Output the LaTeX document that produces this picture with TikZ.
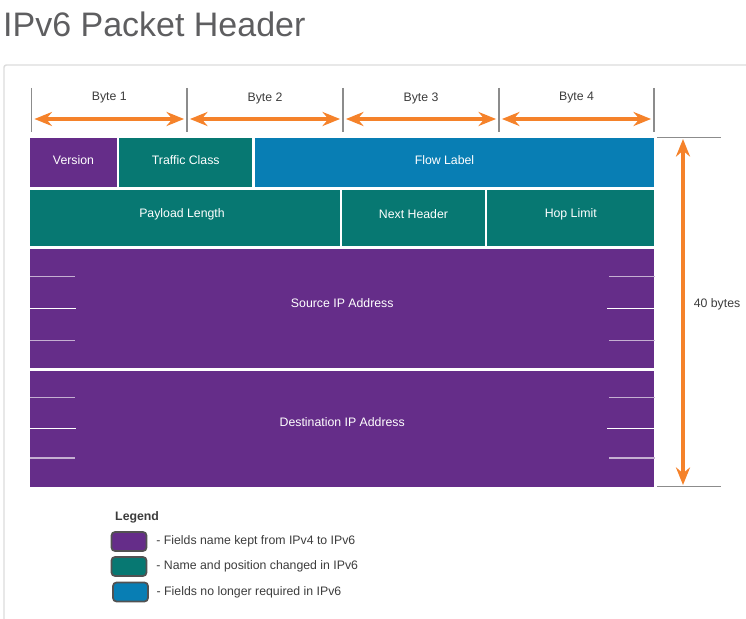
\documentclass[tikz,border=0pt]{standalone}
\usepackage{fontspec}
\setmainfont{Liberation Sans}
\usetikzlibrary{arrows.meta}
\usetikzlibrary{positioning}
\usetikzlibrary{fit}
\usetikzlibrary{calc}

\definecolor{keptpurple}{HTML}{652D89}
\definecolor{changedteal}{HTML}{077872}
\definecolor{droppedblue}{HTML}{087EB4}
\definecolor{arroworange}{HTML}{F5822A}
\definecolor{tickgray}{HTML}{8C8C8C}
\definecolor{framegray}{HTML}{DCDCDC}
\definecolor{textgray}{HTML}{3C3C3C}
\definecolor{titlegray}{HTML}{5E5E60}

\tikzset{
  field/.style={inner sep=0pt, draw=white, line width=2.3pt},
  fieldname/.style={inner sep=0pt, text=white, font=\fontsize{10.5}{12}\selectfont},
  sizearrow/.style={arroworange, line width=2.6pt,
    {Stealth[length=15pt,width=12pt,inset=5pt]}-{Stealth[length=15pt,width=12pt,inset=5pt]}},
  ruler/.style={tickgray, line width=1pt},
  slot/.style={white!62!keptpurple, line width=1pt},
  slotmid/.style={white, line width=1.3pt},
  swatch/.style={draw=black!68, line width=1.5pt, rounded corners=3pt,
    minimum width=1.05cm, minimum height=0.57cm, inner sep=0pt},
  plaintext/.style={inner sep=0pt, text=textgray, font=\fontsize{10.5}{12}\selectfont}
}

\begin{document}
\begin{tikzpicture}[x=0.03cm, y=-0.03cm]
  \useasboundingbox (0,0) rectangle (746,619);

  % title and frame
  \node[anchor=base west, inner sep=0pt, text=titlegray,
        font=\fontsize{29}{34}\selectfont] (title) at (3,37) {IPv6 Packet Header};
  \draw[framegray, line width=1.2pt, rounded corners=2pt] (4,625) -- (4,65) -- (752,65);

  % byte ruler
  \foreach \i/\x in {0/31.5, 1/187, 2/343, 3/499, 4/654}
    \draw[ruler] (\x,88) coordinate (bt\i) -- (\x,132) coordinate (bb\i);
  \foreach \i/\j in {0/1, 1/2, 2/3, 3/4}{
    \node[plaintext] (byte\j) at ($(bt\i)!0.5!(bt\j)+(0,10)$) {Byte \j};
    \draw[sizearrow, shorten <=2.5pt, shorten >=2.5pt] ($(bt\i)+(0,31)$) -- ($(bt\j)+(0,31)$);
  }

  % header fields
  \fill[black!12] (27.5,136.5) rectangle (657,489);
  \node[field, fill=keptpurple, fit={(29,137) (118,188.5)}] (version) {};
  \node[field, fill=changedteal, fit={(118,137) (253.5,188.5)}] (traffic) {};
  \node[field, fill=droppedblue, fit={(253.5,137) (655.5,188.5)}] (flow) {};
  \node[field, fill=changedteal, fit={(29,188.5) (341,247.5)}] (payload) {};
  \node[field, fill=changedteal, fit={(341,188.5) (486,247.5)}] (nexthdr) {};
  \node[field, fill=changedteal, fit={(486,188.5) (655.5,247.5)}] (hoplimit) {};
  \node[field, fill=keptpurple, fit={(29,247.5) (655.5,369.5)}] (source) {};
  \node[field, fill=keptpurple, fit={(29,369.5) (655.5,488)}] (destination) {};

  \node[fieldname] (versionname) at ([yshift=2.5pt]version.center) {Version};
  \node[fieldname] (trafficname) at ([yshift=2.5pt]traffic.center) {Traffic Class};
  \node[fieldname] (flowname) at ([xshift=-0.3cm, yshift=2.5pt]flow.center) {Flow Label};
  \node[fieldname] (payloadname) at ([xshift=-0.09cm, yshift=3pt]payload.center) {Payload Length};
  \node[fieldname] (nexthdrname) at ([yshift=3pt]nexthdr.center) {Next Header};
  \node[fieldname] (hoplimitname) at ([yshift=3pt]hoplimit.center) {Hop Limit};
  \node[fieldname] (sourcename) at ([yshift=4.5pt]source.center) {Source IP Address};
  \node[fieldname] (destinationname) at ([yshift=5.5pt]destination.center) {Destination IP Address};

  % 32 bit slots inside the addresses
  \foreach \y in {276.5, 340.5, 397.5, 458}{
    \draw[slot] (30,\y) -- (75,\y);
    \draw[slot] (609,\y) -- (654.5,\y);
  }
  \foreach \y in {308.5, 428.5}{
    \draw[slotmid] (30,\y) -- (75.5,\y);
    \draw[slotmid] (607,\y) -- (654.5,\y);
  }

  % total size
  \draw[ruler, line width=1.2pt] (657,137.5) coordinate (sizetop) -- (721,137.5);
  \draw[ruler, line width=1.2pt] (657,486.5) coordinate (sizebottom) -- (721,486.5);
  \draw[sizearrow] ($(sizetop)+(26,1.5)$) -- ($(sizebottom)+(26,-1.5)$);
  \node[plaintext] (totalsize) at (717,304) {40 bytes};

  % legend
  \node[plaintext, anchor=west, font=\fontsize{10.5}{12}\selectfont\bfseries] (legend) at (115,517) {Legend};
  \node[swatch, fill=keptpurple] (keptkey) at (129,541.5) {};
  \node[swatch, fill=changedteal] (changedkey) at (129,566.5) {};
  \node[swatch, fill=droppedblue] (droppedkey) at (130.5,592) {};
  \node[plaintext, right=7.5pt of keptkey] (kepttext) {- Fields name kept from IPv4 to IPv6};
  \node[plaintext, right=7.5pt of changedkey] (changedtext) {- Name and position changed in IPv6};
  \node[plaintext, right=6.5pt of droppedkey] (droppedtext) {- Fields no longer required in IPv6};
\end{tikzpicture}
\end{document}
